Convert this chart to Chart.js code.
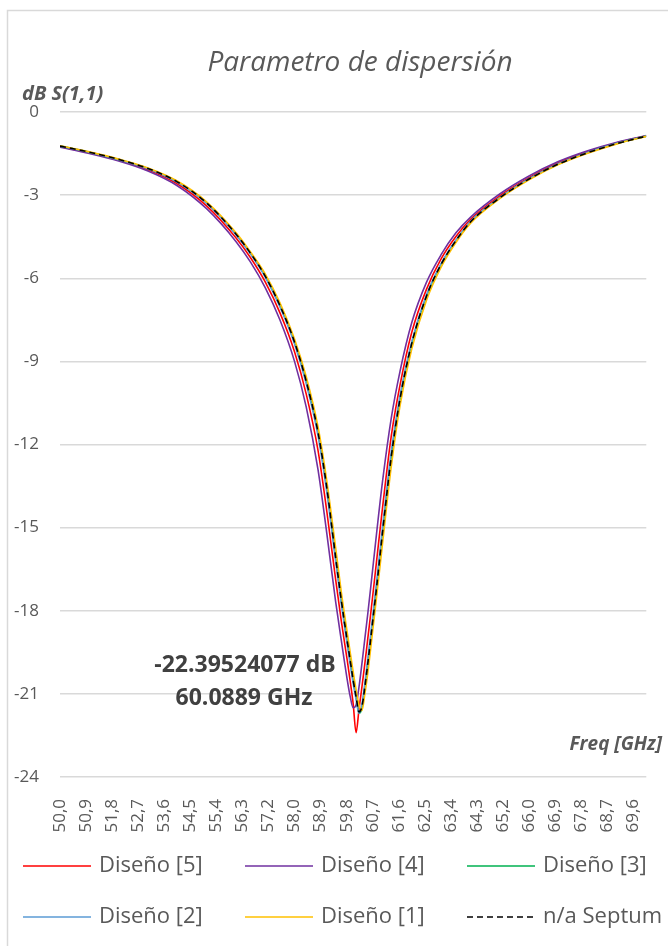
<!DOCTYPE html>
<html>
<head>
<meta charset="utf-8">
<script src="https://cdn.jsdelivr.net/npm/chart.js@4.4.0/dist/chart.umd.min.js"></script>
<style>
    html, body { margin: 0; padding: 0; background: #fff; }
    #wrap { width: 668px; height: 946px; }
</style>
</head>
<body>
<div id="wrap"><canvas id="s11" width="668" height="946"></canvas></div>
<script>
// frequency points (GHz)
const freq = [50, 51, 52, 53, 54, 55, 56, 56.5, 57, 57.5, 58, 58.4, 58.8, 59.1, 59.4, 59.6, 59.8, 59.9, 60.0, 60.1,
              60.2, 60.3, 60.4, 60.5, 60.6, 60.8, 61.0, 61.3, 61.6, 62.0, 62.5, 63.0, 63.5, 64.0, 65.0, 66.0, 67.0, 68.0, 69.0, 70.0];

const diseno5 = [-1.25, -1.47, -1.74, -2.08, -2.59, -3.39, -4.54, -5.26, -6.13, -7.24, -8.65, -10.18, -12.20, -14.40, -16.85, -18.40, -19.80, -20.55, -21.35, -22.40,
                 -21.55, -20.75, -19.90, -19.00, -18.10, -16.20, -14.30, -11.70, -9.85, -7.95, -6.40, -5.30, -4.50, -3.88, -3.03, -2.37, -1.83, -1.43, -1.11, -0.86];
const diseno4 = [-1.27, -1.50, -1.77, -2.13, -2.66, -3.49, -4.67, -5.42, -6.34, -7.50, -9.00, -10.65, -12.90, -15.20, -17.65, -19.10, -20.50, -21.10, -21.50, -21.40,
                 -20.75, -19.90, -19.00, -18.10, -17.15, -15.20, -13.35, -11.05, -9.35, -7.60, -6.15, -5.15, -4.37, -3.80, -2.96, -2.31, -1.79, -1.40, -1.09, -0.85];
const diseno3 = [-1.23, -1.45, -1.71, -2.04, -2.52, -3.28, -4.40, -5.10, -5.92, -6.98, -8.30, -9.72, -11.55, -13.55, -16.05, -17.65, -19.10, -19.80, -20.50, -21.10,
                 -21.70, -21.50, -20.75, -19.90, -19.00, -17.15, -15.20, -12.45, -10.35, -8.35, -6.65, -5.50, -4.65, -3.97, -3.10, -2.42, -1.88, -1.47, -1.14, -0.87];
const diseno2 = [-1.23, -1.45, -1.72, -2.05, -2.54, -3.30, -4.43, -5.13, -5.96, -7.03, -8.37, -9.81, -11.68, -13.72, -16.20, -17.80, -19.25, -19.95, -20.62, -21.20,
                 -21.70, -21.35, -20.60, -19.72, -18.82, -16.95, -15.00, -12.25, -10.22, -8.28, -6.60, -5.47, -4.63, -3.95, -3.09, -2.41, -1.87, -1.46, -1.13, -0.87];
const diseno1 = [-1.22, -1.44, -1.70, -2.02, -2.49, -3.24, -4.35, -5.05, -5.84, -6.88, -8.19, -9.55, -11.35, -13.30, -15.70, -17.35, -18.80, -19.50, -20.20, -20.85,
                 -21.40, -21.60, -21.00, -20.25, -19.35, -17.50, -15.60, -12.80, -10.60, -8.55, -6.80, -5.60, -4.72, -4.02, -3.13, -2.45, -1.90, -1.49, -1.15, -0.88];
const septum  = [-1.23, -1.45, -1.71, -2.04, -2.52, -3.28, -4.40, -5.10, -5.92, -6.98, -8.30, -9.72, -11.55, -13.55, -16.05, -17.65, -19.10, -19.80, -20.50, -21.10,
                 -21.65, -21.45, -20.75, -19.90, -19.00, -17.15, -15.20, -12.45, -10.35, -8.35, -6.65, -5.50, -4.65, -3.97, -3.10, -2.42, -1.88, -1.47, -1.14, -0.87];

const seriesNames = ['Diseño [5]', 'Diseño [4]', 'Diseño [3]', 'Diseño [2]', 'Diseño [1]', 'n/a Septum'];
const seriesColors = ['#FF0000', '#7030A0', '#00B050', '#5B9BD5', '#FFC000', '#000000'];

// category labels shown by the original (every 10th sample)
const tickFreqs = [50.00, 50.89, 51.78, 52.67, 53.56, 54.44, 55.33, 56.22, 57.11, 58.00, 58.89, 59.78,
                   60.67, 61.56, 62.44, 63.33, 64.22, 65.11, 66.00, 66.89, 67.78, 68.67, 69.56];
const tickLabels = ['50,0', '50,9', '51,8', '52,7', '53,6', '54,5', '55,4', '56,3', '57,2', '58,0', '58,9', '59,8',
                    '60,7', '61,6', '62,5', '63,4', '64,3', '65,2', '66,0', '66,9', '67,8', '68,7', '69,6'];

const titleText = 'Parametro de dispersión';
const yTitle = 'dB S(1,1)';
const xTitle = 'Freq [GHz]';
const minLabel = ['-22.39524077 dB', '60.0889 GHz'];

const FONT = '"Open Sans", "Noto Sans", sans-serif';

function toPoints(vals) {
    return freq.map((f, i) => ({x: f, y: vals[i]}));
}

const allSeries = [diseno5, diseno4, diseno3, diseno2, diseno1, septum];
const datasets = allSeries.map((vals, i) => ({
    label: seriesNames[i],
    data: toPoints(vals),
    borderColor: seriesColors[i],
    backgroundColor: seriesColors[i],
    borderWidth: 1.6,
    borderDash: i === 5 ? [6, 4] : [],
    pointRadius: 0,
    cubicInterpolationMode: 'monotone',
    fill: false,
    order: 5 - i
}));

const decor = {
    id: 'decor',
    beforeDraw(chart) {
        const ctx = chart.ctx;
        ctx.save();
        ctx.fillStyle = '#ffffff';
        ctx.fillRect(0, 0, chart.width, chart.height);
        ctx.strokeStyle = '#D9D9D9';
        ctx.lineWidth = 1.5;
        ctx.strokeRect(7.5, 10.5, 700, 1000);
        ctx.restore();
    },
    afterDraw(chart) {
        const ctx = chart.ctx;
        ctx.save();
        ctx.textBaseline = 'middle';

        ctx.fillStyle = '#595959';
        ctx.font = 'italic 28px ' + FONT;
        ctx.textAlign = 'center';
        ctx.fillText(titleText, 360, 63);

        ctx.font = 'italic bold 20px ' + FONT;
        ctx.textAlign = 'left';
        ctx.fillText(yTitle, 22, 94);
        ctx.font = 'italic bold 19px ' + FONT;
        ctx.textAlign = 'right';
        ctx.fillText(xTitle, 662, 745);

        ctx.fillStyle = '#404040';
        ctx.font = 'bold 23px ' + FONT;
        ctx.textAlign = 'center';
        ctx.fillText(minLabel[0], 245, 665);
        ctx.fillText(minLabel[1], 244, 698);

        // legend, two rows of three
        const colX = [23, 245, 467];
        const rowY = [866, 917];
        ctx.font = '22px ' + FONT;
        ctx.textAlign = 'left';
        chart.data.datasets.forEach((ds, i) => {
            const x = colX[i % 3];
            const y = rowY[Math.floor(i / 3)];
            ctx.strokeStyle = ds.borderColor;
            ctx.lineWidth = 1.6;
            ctx.setLineDash(ds.borderDash);
            ctx.beginPath();
            ctx.moveTo(x, y);
            ctx.lineTo(x + 68, y);
            ctx.stroke();
            ctx.setLineDash([]);
            ctx.fillStyle = '#595959';
            ctx.fillText(ds.label, x + 76, y);
        });
        ctx.restore();
    }
};

new Chart(document.getElementById('s11'), {
    type: 'line',
    data: {datasets: datasets},
    options: {
        responsive: false,
        animation: false,
        layout: {padding: {top: 112, right: 9, left: 0, bottom: 109}},
        plugins: {
            legend: {display: false},
            title: {display: false},
            tooltip: {enabled: false}
        },
        scales: {
            x: {
                type: 'linear',
                min: 50,
                max: 70,
                afterBuildTicks: (scale) => {
                    scale.ticks = tickFreqs.map(v => ({value: v}));
                },
                afterFit: (scale) => { scale.height = 60; },
                grid: {display: false},
                border: {display: false},
                ticks: {
                    autoSkip: false,
                    minRotation: 90,
                    maxRotation: 90,
                    padding: 14,
                    color: '#595959',
                    font: {family: FONT, size: 17},
                    callback: (value, index) => tickLabels[index]
                }
            },
            y: {
                min: -24,
                max: 0,
                afterFit: (scale) => { scale.width = 60; },
                grid: {color: '#D9D9D9', lineWidth: 1.5, drawTicks: false},
                border: {display: false},
                ticks: {
                    stepSize: 3,
                    padding: 21,
                    color: '#595959',
                    font: {family: FONT, size: 17}
                }
            }
        }
    },
    plugins: [decor]
});
</script>
</body>
</html>
